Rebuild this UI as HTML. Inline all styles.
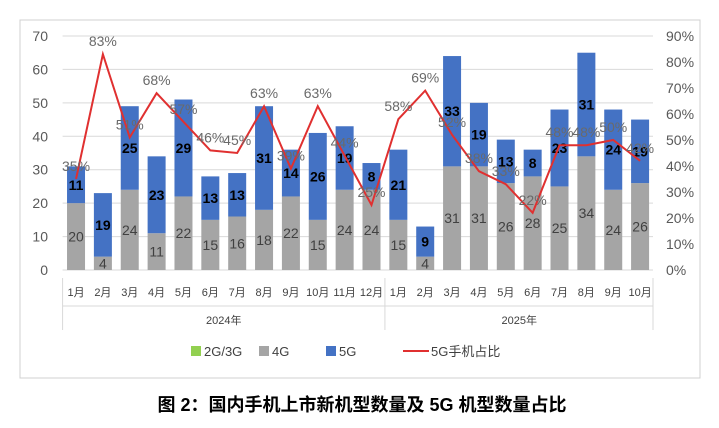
<!DOCTYPE html>
<html><head><meta charset="utf-8"><style>
body{margin:0;background:#fff;width:719px;height:423px;overflow:hidden;font-family:"Liberation Sans","Noto Sans CJK SC",sans-serif}
svg text{font-family:"Liberation Sans","Noto Sans CJK SC",sans-serif}
</style></head><body>
<svg id="c" width="719" height="423"></svg>
<script>
const months=["1月","2月","3月","4月","5月","6月","7月","8月","9月","10月","11月","12月","1月","2月","3月","4月","5月","6月","7月","8月","9月","10月"];
const g4=[20,4,24,11,22,15,16,18,22,15,24,24,15,4,31,31,26,28,25,34,24,26];
const g5=[11,19,25,23,29,13,13,31,14,26,19,8,21,9,33,19,13,8,23,31,24,19];
const pct=[35,83,51,68,57,46,45,63,39,63,44,25,58,69,52,38,33,22,48,48,50,42];
const leftTicks=[0,10,20,30,40,50,60,70];
const rightTicks=[0,10,20,30,40,50,60,70,80,90];
const years=["2024年","2025年"];
const NS="http://www.w3.org/2000/svg",svg=document.getElementById('c');
function el(t,a,txt){const e=document.createElementNS(NS,t);for(const k in a)e.setAttribute(k,a[k]);if(txt!==undefined)e.textContent=txt;svg.appendChild(e);return e;}
const x0=62.6,step=26.86,y0=270,yTop=36;
const X=i=>x0+step*(i+0.5);
const Y=v=>y0-(v/70)*(y0-yTop);
const YR=p=>y0-(p/90)*(y0-yTop);
let e=el('rect',{x:20,y:20,width:680,height:358,fill:'none',stroke:'#d0d0d0'});

leftTicks.forEach(v=>{
 e=el('line',{x1:x0,x2:653,y1:Y(v),y2:Y(v),stroke:'#d9d9d9'});
 
 e=el('text',{x:48,y:Y(v)+5,'text-anchor':'end','font-size':14,fill:'#595959'},v);
 
});
rightTicks.forEach(p=>{
 e=el('text',{x:666,y:YR(p)+5,'font-size':14,fill:'#595959'},p+'%');
 
});
e=el('path',{d:`M${x0} 278 V330 M${x0+step*12} 278 V330 M653 278 V330 M${x0} 306 H653`,stroke:'#d9d9d9',fill:'none'});

const bw=18;
months.forEach((m,i)=>{
 const cx=X(i);
 e=el('rect',{x:cx-bw/2,y:Y(g4[i]),width:bw,height:Y(0)-Y(g4[i]),fill:'#a5a5a5'});
 
 e=el('rect',{x:cx-bw/2,y:Y(g4[i]+g5[i]),width:bw,height:Y(g4[i])-Y(g4[i]+g5[i]),fill:'#4472c4'});
 
 e=el('text',{x:cx,y:(Y(0)+Y(g4[i]))/2+5,'text-anchor':'middle','font-size':14,fill:'#404040'},g4[i]);
 
 e=el('text',{x:cx,y:(Y(g4[i])+Y(g4[i]+g5[i]))/2+5,'text-anchor':'middle','font-size':14,'font-weight':'bold',fill:'#000'},g5[i]);
 
 e=el('text',{x:cx,y:296,'text-anchor':'middle','font-size':11,fill:'#404040'},m);
 
});
e=el('polyline',{points:pct.map((p,i)=>X(i)+','+YR(p)).join(' '),fill:'none',stroke:'#e03030','stroke-width':2});

pct.forEach((p,i)=>{
 e=el('text',{x:X(i),y:YR(p)-8,'text-anchor':'middle','font-size':14,fill:'#6a6a6a'},p+'%');
 
});
years.forEach((yr,k)=>{
 const cx=k==0?x0+step*6:x0+step*17;
 e=el('text',{x:cx,y:324,'text-anchor':'middle','font-size':11,fill:'#404040'},yr);
 
});
const leg=[["2G/3G","#92d050","rect",191],["4G","#a5a5a5","rect",259],["5G","#4472c4","rect",326],["5G手机占比","#e03030","line",403]];
leg.forEach(l=>{
 if(l[2]=='rect'){e=el('rect',{x:l[3],y:346,width:10,height:10,fill:l[1]});}
 else{e=el('line',{x1:l[3],x2:l[3]+26,y1:351,y2:351,stroke:l[1],'stroke-width':2});}
 
 e=el('text',{x:l[3]+(l[2]=='rect'?13:28),y:356,'font-size':13,fill:'#404040'},l[0]);
 
});
e=el('text',{x:362,y:411,'text-anchor':'middle','font-size':18,'font-weight':'bold',fill:'#000'},'图 2：国内手机上市新机型数量及 5G 机型数量占比');

</script>
</body></html>
